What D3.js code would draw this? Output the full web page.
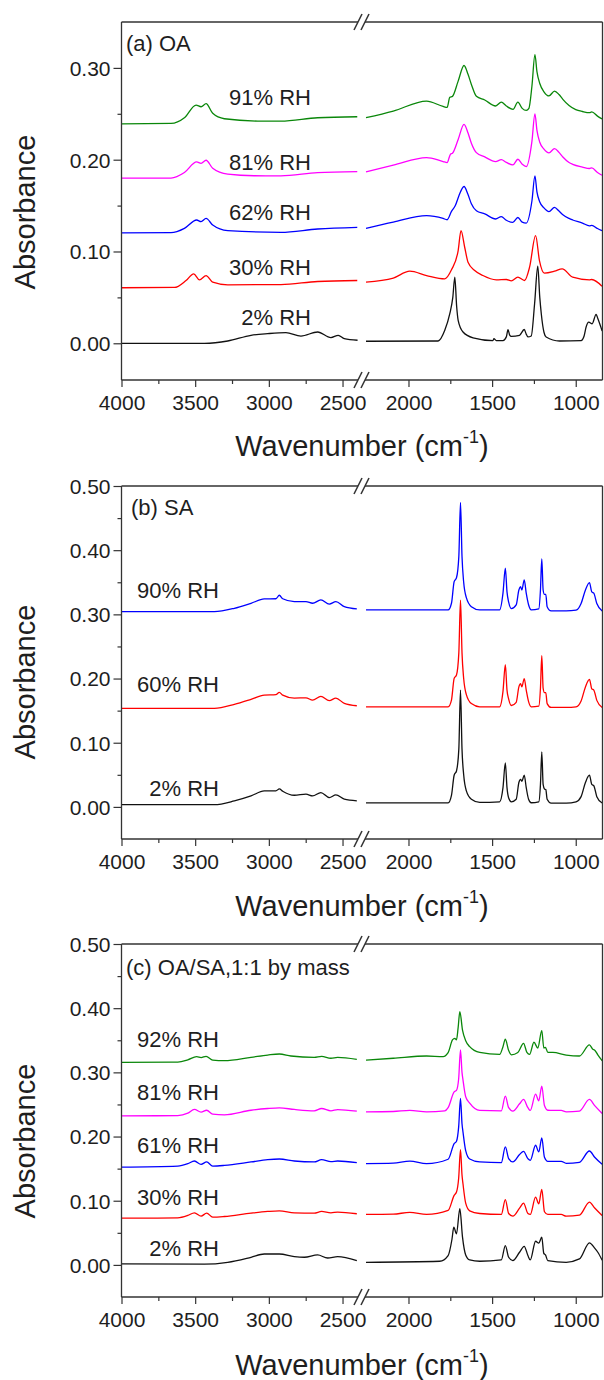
<!DOCTYPE html>
<html>
<head>
<meta charset="utf-8">
<script src="https://cdn.jsdelivr.net/npm/d3@7"></script>
<style>
  body { margin: 0; background: #fff; }
  svg { display: block; }
  text { font-family: Arial, "Liberation Sans", sans-serif; fill: #1e1e1e; }
</style>
</head>
<body>
<svg id="fig" width="604" height="1380"></svg>
<script>
// ---- spectra: [wavenumber, absorbance] ----
// (a) OA
const oa2 = [[4000,0.0],[3437,0.0],[3279,0.0025],[3121,0.0087],[3008,0.0105],[2884,0.0116],[2782,0.0079],[2669,0.0123],[2579,0.0062],[2529,0.0087],[2488,0.005],[2398,0.0033],
  [2254,0.0022],[1823,0.0025],[1783,0.0141],[1753,0.0322],[1735,0.05],[1723,0.072],[1712,0.04],[1703,0.025],[1674,0.0123],[1614,0.006],[1495,0.003],[1489,0.005],[1475,0.003],[1435,0.003],[1415,0.007],[1405,0.0149],[1395,0.009],[1385,0.0076],[1336,0.0087],[1308,0.015],[1296,0.01],[1286,0.0069],[1266,0.008],[1246,0.0431],[1227,0.0839],[1215,0.05],[1206,0.0322],[1190,0.012],[1177,0.0069],[1097,0.0025],[968,0.003],[950,0.008],[938,0.0177],[922,0.023],[902,0.0213],[878,0.0315],[868,0.027],[842,0.0134]];
const oa30 = [[4000,0.0605],[3641,0.0608],[3562,0.0684],[3510,0.0757],[3471,0.0691],[3426,0.0738],[3381,0.0666],[3279,0.0637],[2918,0.064],[2669,0.0673],[2400,0.0684],
  [2254,0.0666],[2091,0.071],[1992,0.0785],[1892,0.0738],[1783,0.0702],[1743,0.08],[1703,0.101],[1686,0.1227],[1664,0.1046],[1644,0.0883],[1604,0.0793],[1555,0.0738],[1475,0.0691],[1415,0.0695],[1385,0.068],[1346,0.072],[1306,0.0684],[1276,0.0829],[1240,0.1173],[1217,0.0901],[1187,0.0764],[1127,0.0785],[1081,0.0811],[1018,0.072],[918,0.0691],[904,0.0695],[843,0.0622]];
const oa62 = [[4000,0.1202],[3664,0.1205],[3573,0.1252],[3490,0.1343],[3460,0.1325],[3426,0.136],[3381,0.1288],[3279,0.1227],[2918,0.1209],[2669,0.1245],[2400,0.1263],
  [2254,0.1252],[2091,0.132],[1892,0.139],[1793,0.136],[1769,0.1346],[1743,0.1437],[1720,0.15],[1700,0.16],[1668,0.1708],[1644,0.162],[1624,0.152],[1594,0.1444],[1544,0.141],[1479,0.1354],[1445,0.138],[1415,0.134],[1376,0.1317],[1346,0.137],[1320,0.132],[1296,0.131],[1262,0.155],[1244,0.1824],[1232,0.165],[1215,0.154],[1190,0.1475],[1160,0.1435],[1127,0.148],[1100,0.144],[1077,0.14],[1040,0.136],[1018,0.1343],[960,0.131],[918,0.128],[904,0.1285],[870,0.125],[843,0.1227]];
const oa81 = [[4000,0.1799],[3664,0.18],[3573,0.186],[3490,0.1976],[3460,0.196],[3426,0.1994],[3381,0.1907],[3279,0.1842],[3100,0.1825],[2918,0.1824],[2669,0.186],[2400,0.1871],
  [2254,0.1868],[2091,0.194],[1892,0.2023],[1793,0.198],[1769,0.1969],[1749,0.206],[1737,0.207],[1703,0.222],[1668,0.2385],[1644,0.229],[1624,0.218],[1594,0.2077],[1544,0.203],[1479,0.198],[1445,0.2],[1415,0.197],[1376,0.1943],[1346,0.2005],[1320,0.195],[1296,0.1925],[1262,0.22],[1244,0.25],[1232,0.232],[1215,0.219],[1190,0.2115],[1160,0.2075],[1127,0.212],[1100,0.208],[1077,0.203],[1040,0.197],[1018,0.195],[960,0.192],[918,0.1904],[904,0.191],[870,0.186],[843,0.1831]];
const oa91 = [[4000,0.239],[3664,0.2395],[3573,0.2457],[3494,0.2595],[3460,0.2577],[3426,0.261],[3381,0.2505],[3302,0.2446],[3076,0.2421],[2918,0.242],[2669,0.2457],[2400,0.2468],
  [2254,0.2457],[2091,0.253],[1892,0.2638],[1793,0.258],[1769,0.257],[1753,0.268],[1737,0.269],[1703,0.2856],[1668,0.3026],[1644,0.293],[1624,0.282],[1594,0.269],[1544,0.265],[1479,0.2585],[1445,0.2627],[1415,0.2585],[1375,0.2548],[1346,0.2627],[1320,0.2559],[1296,0.2537],[1280,0.256],[1262,0.28],[1244,0.3145],[1232,0.296],[1215,0.283],[1190,0.274],[1160,0.2695],[1127,0.2747],[1100,0.271],[1077,0.2657],[1040,0.259],[1000,0.2545],[960,0.2525],[918,0.2512],[904,0.252],[870,0.2475],[843,0.2445]];

// (b) SA
const sa2 = [[4000,0.0037],[3370,0.0035],[3234,0.0094],[3121,0.0172],[3031,0.025],[2952,0.025],[2929,0.0281],[2906,0.0245],[2827,0.0182],[2748,0.0198],[2703,0.0172],[2647,0.0224],[2590,0.0146],[2545,0.0188],[2488,0.012],[2403,0.0094],
  [2254,0.0062],[1763,0.0062],[1743,0.018],[1727,0.0494],[1713,0.056],[1699,0.09],[1689,0.182],[1680,0.09],[1670,0.05],[1654,0.025],[1624,0.012],[1574,0.007],[1455,0.008],[1435,0.03],[1421,0.0687],[1411,0.03],[1401,0.014],[1385,0.008],[1356,0.012],[1340,0.038],[1330,0.043],[1322,0.04],[1308,0.0494],[1296,0.03],[1282,0.012],[1266,0.0065],[1221,0.008],[1211,0.035],[1203,0.0858],[1195,0.035],[1187,0.028],[1179,0.027],[1171,0.012],[1147,0.006],[1057,0.006],[998,0.008],[968,0.016],[942,0.038],[918,0.0494],[904,0.035],[892,0.033],[874,0.016],[842,0.006]];
const sa60 = [[4000,0.1535],[3370,0.1535],[3234,0.1597],[3121,0.1675],[3031,0.1742],[2952,0.175],[2929,0.1784],[2906,0.1742],[2827,0.1695],[2748,0.17],[2703,0.1664],[2647,0.1723],[2590,0.1655],[2545,0.1695],[2488,0.1613],[2403,0.1576],
  [2254,0.156],[1763,0.156],[1743,0.1665],[1727,0.2003],[1713,0.2055],[1699,0.24],[1689,0.322],[1680,0.24],[1670,0.2],[1654,0.175],[1624,0.161],[1574,0.156],[1455,0.156],[1435,0.18],[1421,0.2215],[1411,0.182],[1401,0.168],[1385,0.158],[1356,0.163],[1340,0.187],[1330,0.192],[1322,0.187],[1308,0.2],[1296,0.182],[1282,0.164],[1266,0.156],[1221,0.157],[1211,0.185],[1203,0.2356],[1195,0.185],[1187,0.178],[1179,0.178],[1171,0.161],[1147,0.155],[1057,0.155],[998,0.156],[968,0.165],[942,0.187],[918,0.1988],[904,0.184],[892,0.182],[874,0.166],[842,0.155]];
const sa90 = [[4000,0.3042],[3370,0.3042],[3234,0.3095],[3121,0.3173],[3031,0.324],[2952,0.3243],[2929,0.3298],[2906,0.3243],[2827,0.3198],[2748,0.32],[2703,0.3173],[2647,0.3225],[2590,0.316],[2545,0.3198],[2488,0.312],[2403,0.3084],
  [2254,0.3069],[1763,0.3069],[1743,0.3173],[1727,0.351],[1713,0.357],[1699,0.39],[1689,0.4743],[1680,0.39],[1670,0.35],[1654,0.326],[1624,0.312],[1574,0.307],[1455,0.307],[1435,0.333],[1421,0.3719],[1411,0.335],[1401,0.319],[1385,0.309],[1356,0.3147],[1340,0.338],[1330,0.343],[1322,0.338],[1308,0.3537],[1296,0.333],[1282,0.315],[1266,0.307],[1221,0.3085],[1211,0.338],[1203,0.3864],[1195,0.338],[1187,0.331],[1179,0.331],[1171,0.312],[1147,0.3054],[1057,0.3054],[998,0.3065],[968,0.317],[942,0.338],[918,0.3495],[904,0.335],[892,0.333],[874,0.317],[842,0.3054]];

// (c) OA/SA 1:1
const mix2 = [[4000,0.0016],[3437,0.0011],[3279,0.0041],[3121,0.0119],[3031,0.017],[2929,0.017],[2827,0.0129],[2759,0.0119],[2669,0.0155],[2601,0.0108],[2533,0.0129],[2403,0.0067],
  [2254,0.0041],[1813,0.0057],[1763,0.0146],[1740,0.04],[1729,0.0588],[1713,0.0484],[1693,0.0875],[1677,0.0432],[1658,0.0155],[1634,0.0077],[1574,0.0057],[1445,0.0077],[1421,0.0302],[1401,0.0119],[1376,0.0067],[1336,0.0197],[1308,0.029],[1286,0.0146],[1272,0.0077],[1240,0.0369],[1221,0.034],[1203,0.0431],[1191,0.018],[1181,0.0155],[1167,0.0067],[1057,0.0041],[978,0.0093],[918,0.0344],[888,0.0265],[868,0.0197],[842,0.0072]];
const mix30 = [[4000,0.0728],[3618,0.0733],[3550,0.077],[3505,0.0812],[3460,0.076],[3422,0.0807],[3381,0.0744],[3302,0.0754],[3121,0.0807],[3008,0.0833],[2929,0.0843],[2827,0.0812],[2692,0.0807],[2642,0.0833],[2579,0.0812],[2533,0.0822],[2403,0.0797],
  [2254,0.0786],[2091,0.079],[1992,0.082],[1892,0.0786],[1763,0.0848],[1727,0.1083],[1713,0.1135],[1700,0.135],[1689,0.1797],[1680,0.14],[1674,0.126],[1658,0.0962],[1634,0.0843],[1574,0.0801],[1445,0.0786],[1421,0.1016],[1401,0.0801],[1376,0.076],[1336,0.0884],[1312,0.0963],[1286,0.0801],[1272,0.0786],[1240,0.1057],[1221,0.0952],[1203,0.1177],[1187,0.0828],[1167,0.0786],[1087,0.0786],[1057,0.076],[978,0.0775],[918,0.0979],[888,0.089],[842,0.077]];
const mix61 = [[4000,0.1525],[3618,0.154],[3550,0.1577],[3505,0.1619],[3460,0.1567],[3422,0.1604],[3381,0.154],[3302,0.155],[3121,0.1604],[3008,0.164],[2929,0.165],[2827,0.1619],[2692,0.1604],[2642,0.164],[2579,0.161],[2533,0.1619],[2403,0.1594],
  [2254,0.1578],[2091,0.1585],[1992,0.1617],[1892,0.1578],[1763,0.1646],[1727,0.189],[1713,0.1927],[1700,0.215],[1689,0.2594],[1680,0.22],[1674,0.207],[1658,0.178],[1634,0.165],[1574,0.1604],[1445,0.1593],[1421,0.1838],[1401,0.1656],[1376,0.1604],[1336,0.172],[1312,0.177],[1286,0.1656],[1272,0.163],[1240,0.1864],[1221,0.176],[1203,0.1978],[1187,0.1677],[1167,0.1614],[1087,0.1614],[1057,0.1583],[978,0.1599],[918,0.1775],[888,0.1682],[842,0.1568]];
const mix81 = [[4000,0.2322],[3618,0.2327],[3550,0.2364],[3505,0.2422],[3460,0.238],[3422,0.241],[3381,0.2348],[3302,0.2338],[3121,0.241],[3008,0.2437],[2929,0.2447],[2827,0.2422],[2692,0.2401],[2642,0.2437],[2579,0.24],[2533,0.2421],[2403,0.2395],
  [2254,0.2385],[2091,0.239],[1992,0.2407],[1892,0.2385],[1783,0.24],[1763,0.245],[1727,0.2697],[1713,0.272],[1700,0.29],[1689,0.3349],[1680,0.3],[1674,0.288],[1658,0.262],[1634,0.252],[1574,0.2407],[1445,0.24],[1421,0.263],[1401,0.245],[1376,0.2397],[1336,0.251],[1312,0.2578],[1286,0.245],[1272,0.2407],[1240,0.266],[1221,0.2555],[1203,0.2786],[1187,0.2483],[1167,0.241],[1137,0.2407],[1087,0.2407],[1057,0.2385],[978,0.2397],[918,0.2578],[888,0.2485],[842,0.236]];
const mix92 = [[4000,0.3156],[3618,0.316],[3550,0.3195],[3490,0.3244],[3460,0.323],[3426,0.325],[3381,0.3192],[3302,0.3182],[3121,0.3234],[3008,0.327],[2929,0.3286],[2850,0.3255],[2692,0.3234],[2642,0.325],[2579,0.322],[2533,0.3234],[2403,0.3203],
  [2254,0.3192],[2091,0.322],[1892,0.3255],[1793,0.3245],[1763,0.3307],[1737,0.3505],[1723,0.353],[1713,0.3505],[1703,0.37],[1693,0.3947],[1677,0.366],[1658,0.3494],[1634,0.34],[1574,0.331],[1455,0.328],[1435,0.34],[1421,0.3516],[1401,0.334],[1385,0.3274],[1346,0.331],[1312,0.3453],[1292,0.331],[1276,0.328],[1250,0.3469],[1227,0.338],[1203,0.365],[1191,0.338],[1181,0.339],[1167,0.331],[1137,0.331],[1057,0.327],[978,0.3255],[918,0.3427],[898,0.336],[888,0.335],[868,0.3274],[842,0.318]];

const xTicksLeft = [4000, 3500, 3000, 2500];
const xMinorLeft = [3750, 3250, 2750];
const xTicksRight = [2000, 1500, 1000];
const xMinorRight = [1750, 1250];

const colors = { k: '#111111', r: '#ff0000', b: '#0000ff', m: '#ff00ff', g: '#0a870a' };

const panels = [
  { title: '(a) OA', top: 22, bottom: 380, yDomain: [-0.04, 0.35],
    yTicks: [0, 0.1, 0.2, 0.3], yMinor: [0.05, 0.15, 0.25],
    titleX: 126, titleY: 43, absY: 212, xlabY: 446, labX: 311,
    series: [
      { d: oa2, c: colors.k, lab: '2% RH', ly: 317 },
      { d: oa30, c: colors.r, lab: '30% RH', ly: 267 },
      { d: oa62, c: colors.b, lab: '62% RH', ly: 212 },
      { d: oa81, c: colors.m, lab: '81% RH', ly: 162 },
      { d: oa91, c: colors.g, lab: '91% RH', ly: 97 }
    ] },
  { title: '(b) SA', top: 486, bottom: 839, yDomain: [-0.05, 0.5],
    yTicks: [0, 0.1, 0.2, 0.3, 0.4, 0.5], yMinor: [0.05, 0.15, 0.25, 0.35, 0.45],
    titleX: 131, titleY: 507, absY: 682, xlabY: 906, labX: 219,
    series: [
      { d: sa2, c: colors.k, lab: '2% RH', ly: 788 },
      { d: sa60, c: colors.r, lab: '60% RH', ly: 684 },
      { d: sa90, c: colors.b, lab: '90% RH', ly: 590 }
    ] },
  { title: '(c) OA/SA,1:1 by mass', top: 944, bottom: 1297, yDomain: [-0.05, 0.5],
    yTicks: [0, 0.1, 0.2, 0.3, 0.4, 0.5], yMinor: [0.05, 0.15, 0.25, 0.35, 0.45],
    titleX: 126, titleY: 967, absY: 1141, xlabY: 1365, labX: 219,
    series: [
      { d: mix2, c: colors.k, lab: '2% RH', ly: 1248 },
      { d: mix30, c: colors.r, lab: '30% RH', ly: 1197 },
      { d: mix61, c: colors.b, lab: '61% RH', ly: 1145 },
      { d: mix81, c: colors.m, lab: '81% RH', ly: 1092 },
      { d: mix92, c: colors.g, lab: '92% RH', ly: 1039 }
    ] }
];

const svg = d3.select('#fig');
svg.append('rect').attr('width', 604).attr('height', 1380).attr('fill', '#fff');

const left = 121.5, right = 602.5, breakL = 358, breakR = 365;
const xl = d3.scaleLinear().domain([4000, 2395]).range([left, breakL]);
const xr = d3.scaleLinear().domain([2260, 840]).range([breakR, right]);
const axisColor = '#333';

panels.forEach(p => {
  const g = svg.append('g');
  const y = d3.scaleLinear().domain(p.yDomain).range([p.bottom, p.top]);

  // spectra, two segments each side of the break
  const lineL = d3.line().x(d => xl(d[0])).y(d => y(d[1])).curve(d3.curveMonotoneX);
  const lineR = d3.line().x(d => xr(d[0])).y(d => y(d[1])).curve(d3.curveMonotoneX);
  p.series.forEach(s => {
    g.append('path').attr('d', lineL(s.d.filter(d => d[0] > 2330)))
      .attr('fill', 'none').attr('stroke', s.c).attr('stroke-width', 1.3);
    g.append('path').attr('d', lineR(s.d.filter(d => d[0] <= 2330)))
      .attr('fill', 'none').attr('stroke', s.c).attr('stroke-width', 1.3);
    g.append('text').attr('x', p.labX).attr('y', s.ly).attr('dy', '0.35em')
      .attr('text-anchor', 'end').attr('font-size', 22).text(s.lab);
  });

  // x axes (ticks only, frame drawn below)
  const xAxisG = g.append('g').attr('transform', `translate(0,${p.bottom})`);
  const addX = (scale, vals, size, labels) => {
    const a = xAxisG.append('g').call(d3.axisBottom(scale).tickValues(vals).tickSize(size)
      .tickFormat(labels ? d3.format('d') : ''));
    a.select('.domain').remove();
    a.selectAll('line').attr('stroke', axisColor).attr('stroke-width', 1.2);
    a.selectAll('text').attr('y', 23).attr('dy', '0.35em').attr('font-size', 21)
      .attr('font-family', null).attr('fill', '#1e1e1e');
  };
  addX(xl, xTicksLeft, 7, true);
  addX(xl, xMinorLeft, 4, false);
  addX(xr, xTicksRight, 7, true);
  addX(xr, xMinorRight, 4, false);

  // y axis
  const yAxisG = g.append('g').attr('transform', `translate(${left},0)`);
  const ya = yAxisG.append('g').call(d3.axisLeft(y).tickValues(p.yTicks).tickSize(8).tickFormat(d3.format('.2f')));
  const ym = yAxisG.append('g').call(d3.axisLeft(y).tickValues(p.yMinor).tickSize(4).tickFormat(''));
  [ya, ym].forEach(a => {
    a.select('.domain').remove();
    a.selectAll('line').attr('stroke', axisColor).attr('stroke-width', 1.2);
  });
  ya.selectAll('text').attr('x', -11).attr('dy', '0.35em').attr('font-size', 21)
    .attr('font-family', null).attr('fill', '#1e1e1e');

  // frame with break gap
  const fr = g.append('g').attr('stroke', axisColor).attr('stroke-width', 1.3).attr('fill', 'none');
  fr.append('line').attr('x1', left).attr('x2', left).attr('y1', p.top).attr('y2', p.bottom);
  fr.append('line').attr('x1', right).attr('x2', right).attr('y1', p.top).attr('y2', p.bottom);
  [p.top, p.bottom].forEach(yy => {
    fr.append('line').attr('x1', left).attr('x2', breakL).attr('y1', yy).attr('y2', yy);
    fr.append('line').attr('x1', breakR).attr('x2', right).attr('y1', yy).attr('y2', yy);
    [breakL, breakR].forEach(bx => {
      fr.append('line').attr('x1', bx - 4).attr('y1', yy + 8).attr('x2', bx + 4).attr('y2', yy - 8)
        .attr('stroke-width', 1.5);
    });
  });

  // titles
  g.append('text').attr('x', p.titleX).attr('y', p.titleY).attr('dy', '0.35em')
    .attr('font-size', 22).text(p.title);
  g.append('text').attr('transform', `translate(25,${p.absY}) rotate(-90)`)
    .attr('text-anchor', 'middle').attr('dy', '0.35em').attr('font-size', 29).text('Absorbance');
  const xt = g.append('text').attr('x', (left + right) / 2).attr('y', p.xlabY).attr('dy', '0.35em')
    .attr('text-anchor', 'middle').attr('font-size', 29);
  xt.append('tspan').text('Wavenumber (cm');
  xt.append('tspan').attr('font-size', 18).attr('dy', '-0.75em').text('-1');
  xt.append('tspan').attr('dy', '0.45em').text(')');
});
</script>
</body>
</html>
